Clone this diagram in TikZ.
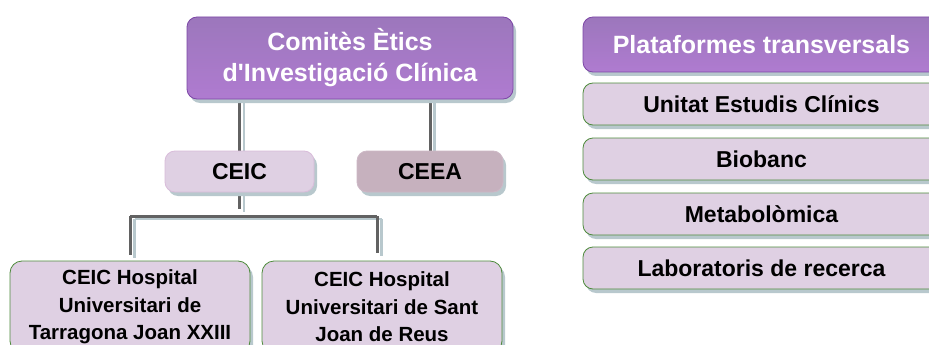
\documentclass[tikz,border=0pt]{standalone}
\usepackage{fontspec}
\setmainfont{Liberation Sans}
\usetikzlibrary{shadows}
\pgfdeclarelayer{background}
\pgfsetlayers{background,main}
\definecolor{hdtop}{HTML}{9C77BC}
\definecolor{hdbot}{HTML}{AF7BD0}
\definecolor{hdborder}{HTML}{7C47A6}
\definecolor{lightfill}{HTML}{DFD0E3}
\definecolor{greenb}{HTML}{4E8B3C}
\definecolor{ceicb}{HTML}{D9BCDA}
\definecolor{ceeafill}{HTML}{C6B1BE}
\definecolor{ceeab}{HTML}{CDB8C6}
\definecolor{shadowc}{HTML}{B8C8CD}
\definecolor{linec}{HTML}{626262}
\begin{document}
\begin{tikzpicture}[x=1pt,y=-1pt,
  box/.style={rectangle, rounded corners=10pt, align=center, inner sep=0pt,
    general shadow={shadow xshift=3pt, shadow yshift=-4pt, fill=shadowc}},
  header/.style={box, top color=hdtop, bottom color=hdbot, draw=hdborder, line width=0.8pt,
    text=white, font=\fontsize{25}{31}\selectfont\bfseries},
  item/.style={box, fill=lightfill, draw=greenb, line width=0.8pt,
    font=\fontsize{23}{28}\selectfont\bfseries},
  hosp/.style={box, fill=lightfill, draw=greenb, line width=0.8pt, rounded corners=12pt,
    font=\fontsize{20.5}{27.5}\selectfont\bfseries},
  conn/.style={draw=linec, line width=3pt},
  connshadow/.style={draw=shadowc, line width=2.2pt, transform canvas={xshift=4.5pt,yshift=-3pt}}
]
\clip (0,0) rectangle (929,345);

% left tree
\node[header, minimum width=326pt, minimum height=82pt] (top) at (350,58)
  {Comitès Ètics\\d\textquotesingle Investigació Clínica};
\node[item, draw=ceicb, minimum width=149pt, minimum height=41pt] (ceic) at (239.5,171.5) {CEIC};
\node[item, fill=ceeafill, draw=ceeab, minimum width=146pt, minimum height=41pt] (ceea) at (430,171.5) {CEEA};
\node[hosp, minimum width=240pt, minimum height=92pt] (hl) at (130,307)
  {CEIC Hospital\\Universitari de\\Tarragona Joan XXIII};
\node[hosp, minimum width=240pt, minimum height=92pt] (hr) at (382,307)
  {CEIC Hospital\\Universitari de Sant\\Joan de Reus};

\coordinate (bl) at (130,216);
\coordinate (br) at (377,216);
\coordinate (cj) at (239.5,209);

\begin{pgfonlayer}{background}
  \fill[white] (0,0) rectangle (929,345);
  \foreach \sty in {connshadow,conn}{
    \draw[\sty] (ceic.north |- top.south) -- (ceic.north);
    \draw[\sty] (ceea.north |- top.south) -- (ceea.north);
    \draw[\sty] (ceic.south) -- (cj);
    \draw[\sty] (bl) -- (br);
    \draw[\sty] (bl) -- ([yshift=6pt]hl.north -| bl);
    \draw[\sty] (br) -- ([yshift=8pt]hr.north -| br);
  }
\end{pgfonlayer}

% right column
\node[header, minimum width=357pt, minimum height=55pt] (plat) at (761.5,44.5) {Plataformes transversals};
\node[item, minimum width=357pt, minimum height=42pt] (unitat) at (761.5,104) {Unitat Estudis Clínics};
\node[item, minimum width=357pt, minimum height=42pt] (bio) at (761.5,159) {Biobanc};
\node[item, minimum width=357pt, minimum height=42pt] (meta) at (761.5,214) {Metabolòmica};
\node[item, minimum width=357pt, minimum height=42pt] (lab) at (761.5,268) {Laboratoris de recerca};
\end{tikzpicture}
\end{document}
